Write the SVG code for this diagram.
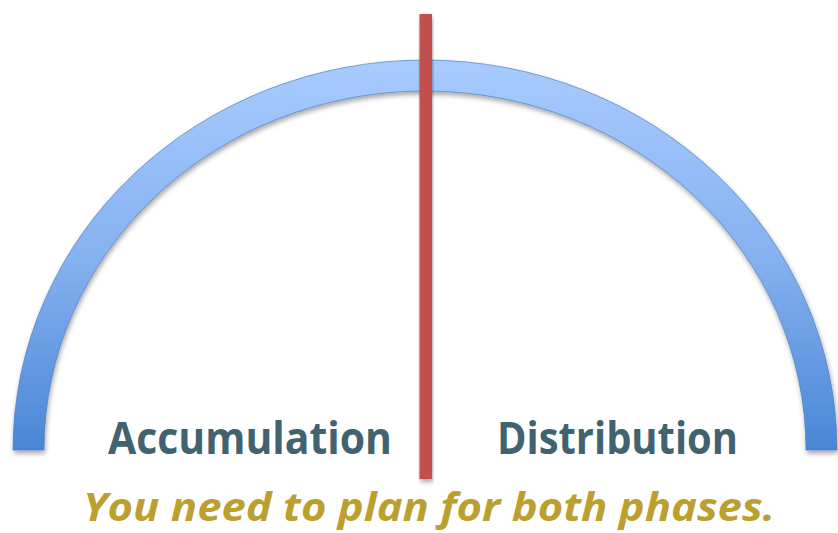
<svg xmlns="http://www.w3.org/2000/svg" width="838" height="533" viewBox="0 0 838 533">
  <defs>
    <linearGradient id="arcGrad" x1="0" y1="60" x2="0" y2="450" gradientUnits="userSpaceOnUse">
      <stop offset="0" stop-color="#A8CBFF"/>
      <stop offset="0.5" stop-color="#86B2F0"/>
      <stop offset="1" stop-color="#4A86D6"/>
    </linearGradient>
    <filter id="shadow" x="-10%" y="-10%" width="120%" height="130%">
      <feDropShadow dx="1" dy="3" stdDeviation="2.5" flood-color="#000" flood-opacity="0.35"/>
    </filter>
  </defs>
  <style>
    .label { font-family: "Open Sans", "Liberation Sans", sans-serif; font-weight: bold; fill: #41626F; font-size: 45px; }
    .note { font-family: "Open Sans", "Liberation Sans", sans-serif; font-weight: bold; font-style: italic; fill: #BBA030; font-size: 40px; }
  </style>
  <rect width="838" height="533" fill="#FFFFFF"/>
  <g id="arc">
    <path d="M 13 450 A 412 390 0 0 1 837 450 L 806 450 A 381 359 0 0 0 44 450 Z" fill="url(#arcGrad)" stroke="#4F7FC0" stroke-width="1" stroke-opacity="0.7" filter="url(#shadow)"/>
  </g>
  <g id="divider">
    <rect x="419.5" y="14" width="12.5" height="465" fill="#C0504D" filter="url(#shadow)"/>
  </g>
  <g id="accumulation">
    <text class="label" x="108" y="454" textLength="284" lengthAdjust="spacingAndGlyphs">Accumulation</text>
  </g>
  <g id="distribution">
    <text class="label" x="497" y="454" textLength="241" lengthAdjust="spacingAndGlyphs">Distribution</text>
  </g>
  <g id="caption">
    <text class="note" x="83" y="521" textLength="692" lengthAdjust="spacingAndGlyphs">You need to plan for both phases.</text>
  </g>
</svg>
